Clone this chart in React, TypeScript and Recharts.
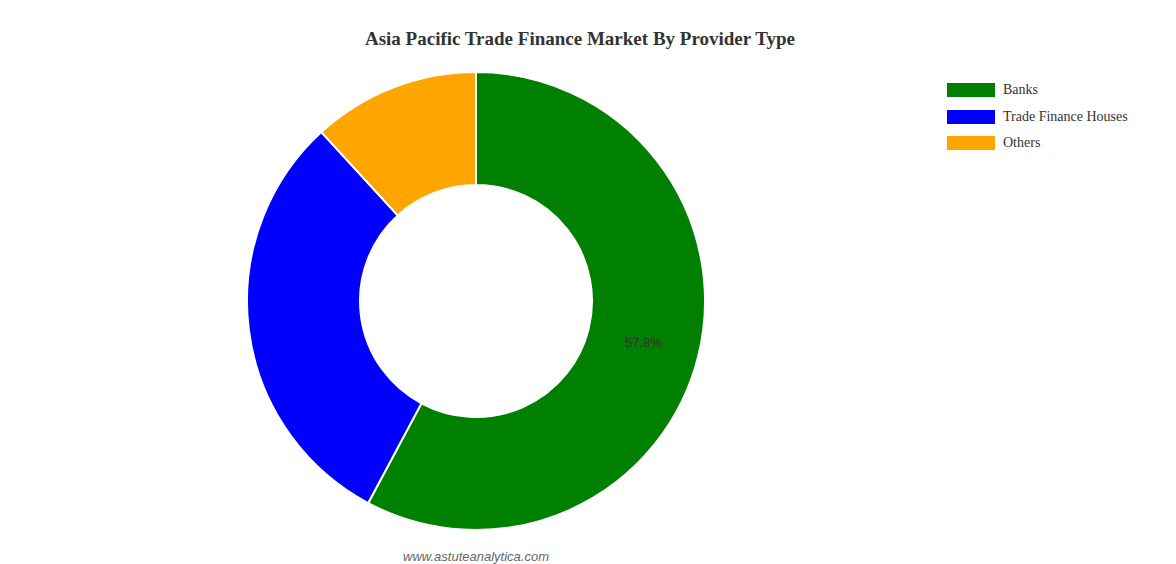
import React from "react";
import { PieChart, Pie, Cell, Legend } from "recharts";

const categories = ["Banks", "Trade Finance Houses", "Others"];
const shares = [57.8, 30.4, 11.8];
const colors = ["#008000", "#0000ff", "#ffa500"];

const data = categories.map((name, i) => ({ name, value: shares[i] }));

const RADIAN = Math.PI / 180;

const renderLabel = (props: any) => {
  const { cx, cy, midAngle, innerRadius, outerRadius, index } = props;
  if (index !== 0) return null;
  const r = (innerRadius + outerRadius) / 2;
  const x = cx + r * Math.cos(-midAngle * RADIAN);
  const y = cy + r * Math.sin(-midAngle * RADIAN);
  return (
    <text
      x={x}
      y={y}
      fill="#333"
      textAnchor="middle"
      dominantBaseline="central"
      fontFamily="'Liberation Sans', Arial, sans-serif"
      fontSize={13}
    >
      {`${shares[index].toFixed(1)}%`}
    </text>
  );
};

const renderLegend = () => (
  <div style={{ fontFamily: "'Liberation Serif', 'Times New Roman', serif", fontSize: 14, color: "#333" }}>
    {categories.map((c, i) => (
      <div key={c} style={{ display: "flex", alignItems: "center", height: 26.5 }}>
        <div style={{ width: 48, height: 14, background: colors[i], marginRight: 8 }} />
        <span>{c}</span>
      </div>
    ))}
  </div>
);

export default function App() {
  return (
    <div style={{ position: "absolute", left: 0, top: 0, width: 1176, height: 564, background: "#fff" }}>
      <div
        style={{
          position: "absolute",
          left: 0,
          top: 28,
          width: 1160,
          textAlign: "center",
          fontFamily: "'Liberation Serif', 'Times New Roman', serif",
          fontWeight: "bold",
          fontSize: 19,
          color: "#333",
          lineHeight: "22px",
        }}
      >
        Asia Pacific Trade Finance Market By Provider Type
      </div>
      <PieChart width={1176} height={564} margin={{ top: 0, right: 0, bottom: 0, left: 0 }}>
        <Pie
          data={data}
          dataKey="value"
          nameKey="name"
          cx={476}
          cy={301}
          outerRadius={229}
          innerRadius={116}
          startAngle={90}
          endAngle={-270}
          stroke="#fff"
          strokeWidth={2}
          label={renderLabel}
          labelLine={false}
          isAnimationActive={false}
        >
          {data.map((d, i) => (
            <Cell key={d.name} fill={colors[i]} />
          ))}
        </Pie>
        <Legend
          content={renderLegend}
          layout="vertical"
          verticalAlign="top"
          align="right"
          wrapperStyle={{ position: "absolute", left: 947, top: 77, width: 220 }}
        />
      </PieChart>
      <div
        style={{
          position: "absolute",
          left: 376,
          top: 549,
          width: 200,
          textAlign: "center",
          fontFamily: "'Liberation Sans', Arial, sans-serif",
          fontStyle: "italic",
          fontSize: 13,
          color: "#666",
          lineHeight: "16px",
        }}
      >
        www.astuteanalytica.com
      </div>
    </div>
  );
}
